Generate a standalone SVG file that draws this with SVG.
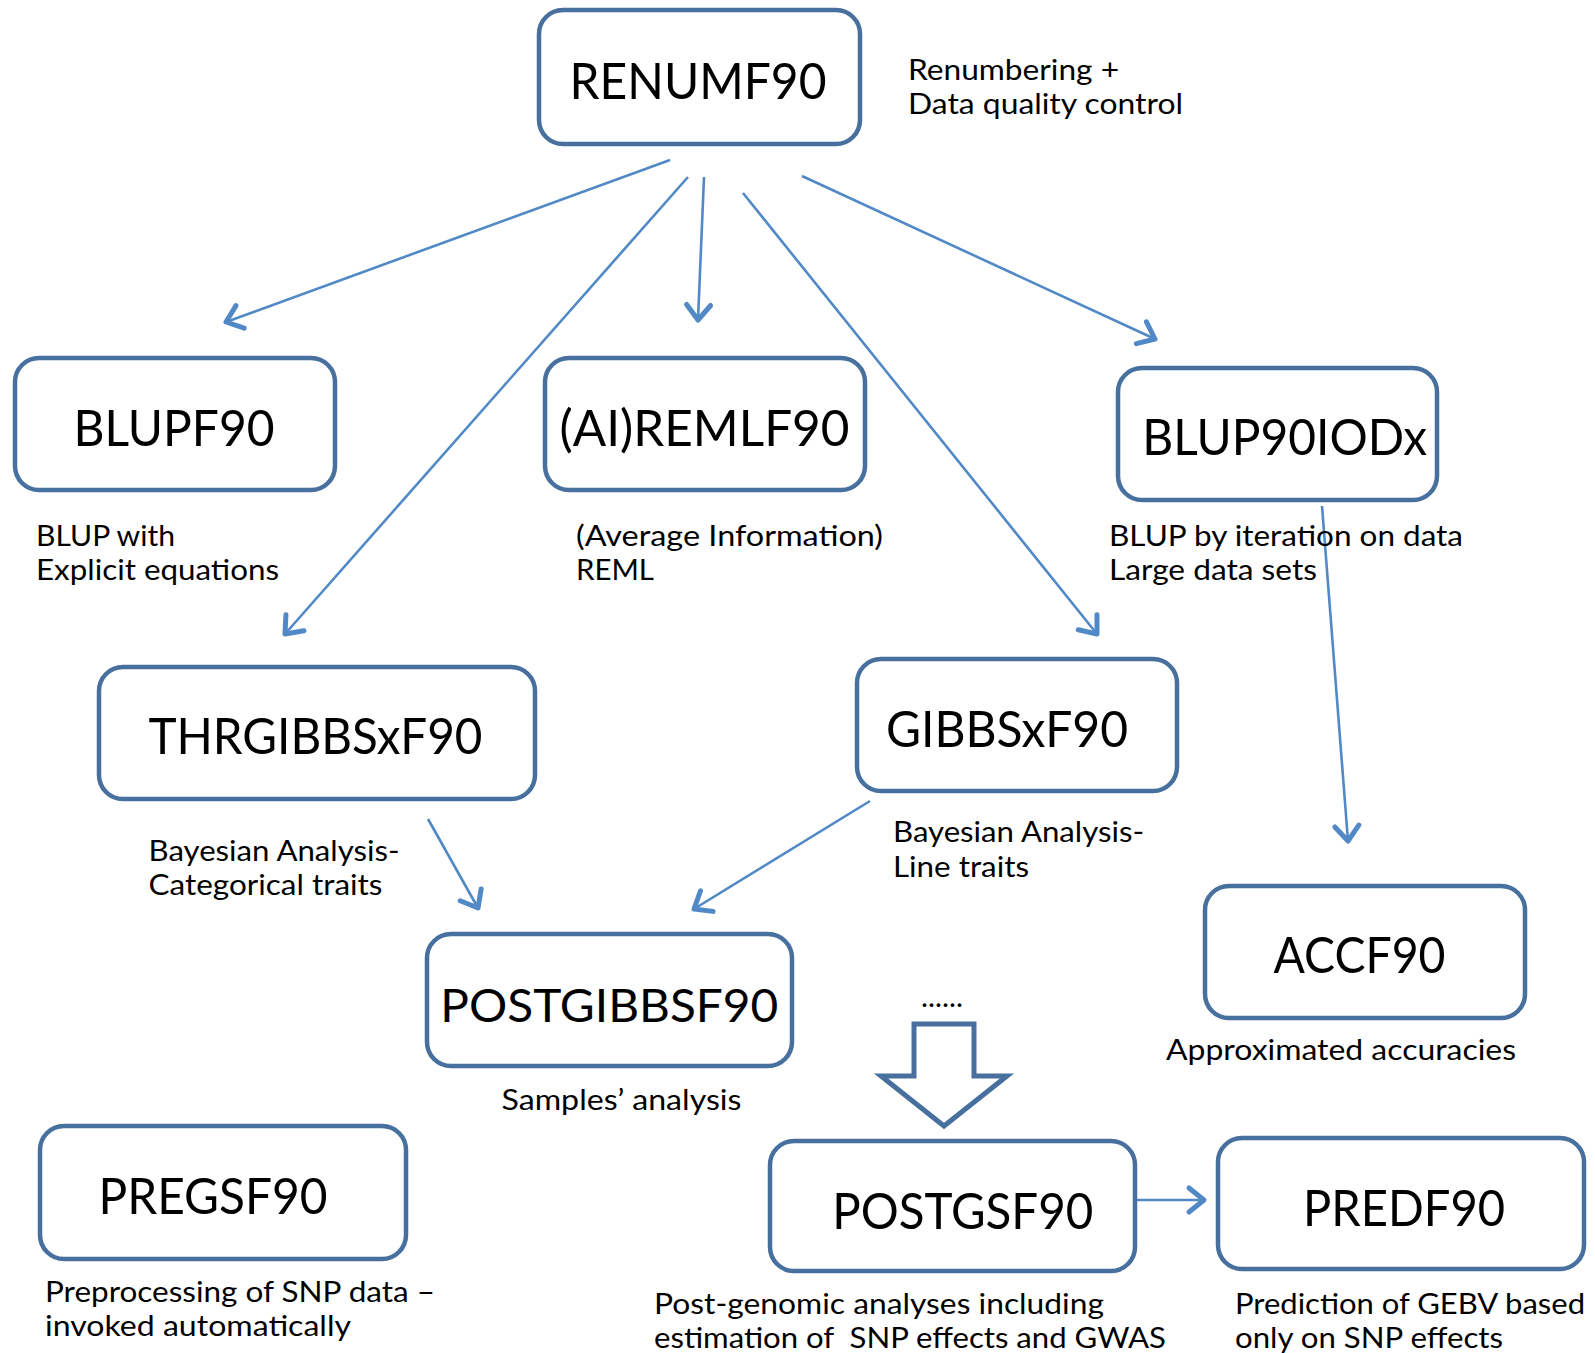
<svg xmlns="http://www.w3.org/2000/svg" width="1595" height="1353" viewBox="0 0 1595 1353">
<style>
.box{fill:#ffffff;stroke:#48709e;stroke-width:4.5}
.nl{font-family:Lato,"Open Sans",sans-serif;font-size:50px;fill:#000;text-anchor:middle}
.sl{font-family:Lato,"Open Sans",sans-serif;font-size:28px;fill:#000;white-space:pre}
.con{stroke:#5189c7;stroke-width:2.6;fill:none;marker-end:url(#ah)}
.blk{fill:#ffffff;stroke:#48709e;stroke-width:5;stroke-linejoin:miter}
</style>
<defs>
<marker id="ah" markerUnits="userSpaceOnUse" viewBox="-22 -18 26 36" markerWidth="26" markerHeight="36" refX="0" refY="0" orient="auto" overflow="visible">
<path d="M-15,-12 L0,0 L-15,12" fill="none" stroke="#5189c7" stroke-width="5" stroke-linecap="round" stroke-linejoin="round"/>
</marker>
</defs>
<rect width="1595" height="1353" fill="#ffffff"/>
<g id="connectors">
<path class="con" d="M670,160 L226,322"/>
<path class="con" d="M688,177 L285,634"/>
<path class="con" d="M704,177 L698,320"/>
<path class="con" d="M743,193 L1097,634"/>
<path class="con" d="M802,176 L1155,339"/>
<path class="con" d="M1322,506 L1348,841"/>
<path class="con" d="M428,819 L478,908"/>
<path class="con" d="M870,801 L694,909"/>
<path class="con" d="M1135,1200 L1204,1200"/>
</g>
<g id="n-renumf90">
<rect class="box" x="539" y="10" width="321" height="134" rx="24"/>
<text class="nl" x="698" y="99" textLength="257" lengthAdjust="spacingAndGlyphs">RENUMF90</text>
<text class="sl" x="908" y="80" textLength="211" lengthAdjust="spacingAndGlyphs">Renumbering +</text>
<text class="sl" x="908" y="114" textLength="275" lengthAdjust="spacingAndGlyphs">Data quality control</text>
</g>
<g id="n-blupf90">
<rect class="box" x="15" y="358" width="320" height="132" rx="24"/>
<text class="nl" x="174" y="446" textLength="201" lengthAdjust="spacingAndGlyphs">BLUPF90</text>
<text class="sl" x="36" y="546" textLength="139" lengthAdjust="spacingAndGlyphs">BLUP with</text>
<text class="sl" x="36" y="580" textLength="243" lengthAdjust="spacingAndGlyphs">Explicit equations</text>
</g>
<g id="n-remlf90">
<rect class="box" x="545" y="358" width="320" height="132" rx="24"/>
<text class="nl" x="704.5" y="446" textLength="290" lengthAdjust="spacingAndGlyphs">(AI)REMLF90</text>
<text class="sl" x="576" y="546" textLength="307" lengthAdjust="spacingAndGlyphs">(Average Information)</text>
<text class="sl" x="576" y="580" textLength="78" lengthAdjust="spacingAndGlyphs">REML</text>
</g>
<g id="n-blup90iodx">
<rect class="box" x="1118" y="368" width="319" height="132" rx="24"/>
<text class="nl" x="1284.7" y="455" textLength="285" lengthAdjust="spacingAndGlyphs">BLUP90IODx</text>
<text class="sl" x="1109" y="546" textLength="354" lengthAdjust="spacingAndGlyphs">BLUP by iteration on data</text>
<text class="sl" x="1109" y="580" textLength="208" lengthAdjust="spacingAndGlyphs">Large data sets</text>
</g>
<g id="n-thrgibbsxf90">
<rect class="box" x="99" y="667" width="436" height="132" rx="24"/>
<text class="nl" x="315.4" y="754" textLength="334" lengthAdjust="spacingAndGlyphs">THRGIBBSxF90</text>
<text class="sl" x="148.5" y="861" textLength="251" lengthAdjust="spacingAndGlyphs">Bayesian Analysis-</text>
<text class="sl" x="148.5" y="895" textLength="234" lengthAdjust="spacingAndGlyphs">Categorical traits</text>
</g>
<g id="n-gibbsxf90">
<rect class="box" x="857" y="659" width="320" height="132" rx="24"/>
<text class="nl" x="1007" y="747" textLength="242" lengthAdjust="spacingAndGlyphs">GIBBSxF90</text>
<text class="sl" x="893" y="842" textLength="251" lengthAdjust="spacingAndGlyphs">Bayesian Analysis-</text>
<text class="sl" x="893" y="877" textLength="136" lengthAdjust="spacingAndGlyphs">Line traits</text>
</g>
<g id="n-postgibbsf90">
<rect class="box" x="427" y="934" width="365" height="132" rx="24"/>
<text class="nl" x="609.3" y="1022" style="font-size:47px" textLength="338" lengthAdjust="spacingAndGlyphs">POSTGIBBSF90</text>
<text class="sl" x="501.5" y="1110" textLength="240" lengthAdjust="spacingAndGlyphs">Samples’ analysis</text>
</g>
<g id="n-accf90">
<rect class="box" x="1205" y="886" width="320" height="132" rx="24"/>
<text class="nl" x="1359.5" y="973" textLength="172" lengthAdjust="spacingAndGlyphs">ACCF90</text>
<text class="sl" x="1166" y="1060" textLength="350" lengthAdjust="spacingAndGlyphs">Approximated accuracies</text>
</g>
<g id="n-pregsf90">
<rect class="box" x="40" y="1126" width="366" height="133" rx="24"/>
<text class="nl" x="213" y="1214" textLength="229" lengthAdjust="spacingAndGlyphs">PREGSF90</text>
<text class="sl" x="45" y="1302" textLength="390" lengthAdjust="spacingAndGlyphs">Preprocessing of SNP data –</text>
<text class="sl" x="45" y="1336" textLength="306" lengthAdjust="spacingAndGlyphs">invoked automatically</text>
</g>
<g id="n-postgsf90">
<rect class="box" x="770" y="1141" width="365" height="130" rx="24"/>
<text class="nl" x="962.7" y="1229" textLength="261" lengthAdjust="spacingAndGlyphs">POSTGSF90</text>
<text class="sl" x="654" y="1314" textLength="450" lengthAdjust="spacingAndGlyphs">Post-genomic analyses including</text>
<text class="sl" x="654" y="1348" textLength="512" lengthAdjust="spacingAndGlyphs">estimation of  SNP effects and GWAS</text>
</g>
<g id="n-predf90">
<rect class="box" x="1218" y="1138" width="366" height="131" rx="24"/>
<text class="nl" x="1404" y="1226" textLength="202" lengthAdjust="spacingAndGlyphs">PREDF90</text>
<text class="sl" x="1235" y="1314" textLength="350" lengthAdjust="spacingAndGlyphs">Prediction of GEBV based</text>
<text class="sl" x="1235" y="1348" textLength="268" lengthAdjust="spacingAndGlyphs">only on SNP effects</text>
</g>
<g id="n-dots">
<text class="sl" x="921" y="1007" textLength="42" lengthAdjust="spacingAndGlyphs">......</text>
<path class="blk" d="M914,1024 L974,1024 L974,1076 L1007,1076 L944,1126 L881,1076 L914,1076 Z"/>
</g>
</svg>
